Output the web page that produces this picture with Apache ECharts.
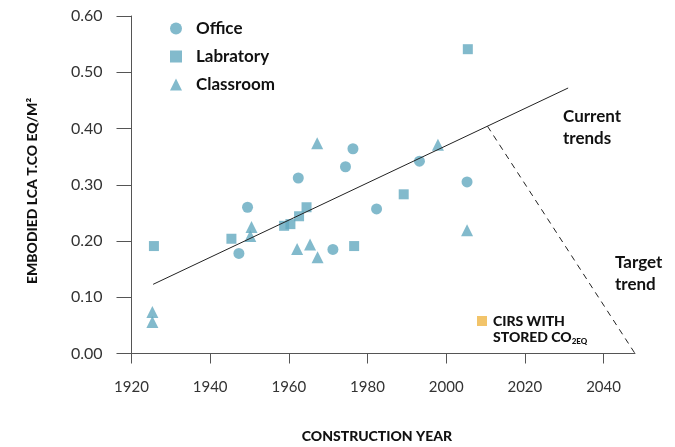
<!DOCTYPE html>
<html>
<head>
<meta charset="utf-8">
<script src="https://cdn.jsdelivr.net/npm/echarts@6/dist/echarts.min.js"></script>
<style>
html,body{margin:0;padding:0;background:#fff;}
#chart{width:675px;height:447px;}
</style>
</head>
<body>
<div id="chart"></div>
<script>
// ---- data ----
const officeData = [[1947.3,0.178],[1949.5,0.260],[1962.4,0.312],[1971.2,0.185],[1974.4,0.332],[1976.3,0.364],[1982.3,0.257],[1993.2,0.342],[2005.3,0.305]];
const labData = [[1925.7,0.191],[1945.4,0.204],[1958.8,0.227],[1960.4,0.230],[1962.6,0.244],[1964.5,0.260],[1976.6,0.191],[1989.2,0.283],[2005.5,0.541]];
const classroomData = [[1925.3,0.074],[1925.3,0.056],[1950.5,0.225],[1950.2,0.209],[1962.1,0.186],[1965.4,0.194],[1967.2,0.374],[1967.3,0.171],[1997.9,0.371],[2005.3,0.219]];
const currentTrend = [[1925.5,0.123],[2031,0.472]];
const targetTrend = [[2010.5,0.404],[2048,0.0]];
const xTicks = [1920,1940,1960,1980,2000,2020,2040];
const seriesNames = ['Office','Labratory','Classroom'];

const teal = '#63a9bf';
const axisColor = '#555';
const font = 'Lato, "Open Sans", sans-serif';

const chart = echarts.init(document.getElementById('chart'), null, {renderer:'canvas'});
chart.setOption({
  animation:false,
  backgroundColor:'#fff',
  grid:{left:131.5, right:40, top:16, bottom:93.5, containLabel:false},
  xAxis:{
    type:'value', min:1920, max:2048, interval:20,
    splitLine:{show:false},
    axisLine:{show:true, lineStyle:{color:axisColor, width:1}},
    axisTick:{show:true, length:10, lineStyle:{color:axisColor}, customValues:xTicks},
    axisLabel:{margin:26, color:'#333', fontSize:15, fontFamily:font, customValues:xTicks, formatter:v=>String(Math.round(v))}
  },
  yAxis:{
    type:'value', min:0, max:0.6, interval:0.1,
    splitLine:{show:false},
    axisLine:{show:true, lineStyle:{color:axisColor, width:1}},
    axisTick:{show:true, length:15, lineStyle:{color:axisColor}},
    axisLabel:{margin:29, color:'#333', fontSize:16, fontFamily:font, formatter:v=>v.toFixed(2)}
  },
  legend:{
    orient:'vertical', left:165, top:15, itemWidth:12, itemHeight:12, itemGap:11,
    data:[{name:'Office',icon:'circle'},{name:'Labratory',icon:'rect'},{name:'Classroom',icon:'triangle'}],
    textStyle:{fontFamily:font, fontWeight:'bold', fontSize:17, color:'#111', lineHeight:17, padding:[0,0,0,9]},
    selectedMode:false
  },
  series:[
    {name:'Office', type:'scatter', symbol:'circle', symbolSize:11, data:officeData, itemStyle:{color:teal}},
    {name:'Labratory', type:'scatter', symbol:'rect', symbolSize:10, data:labData, itemStyle:{color:teal}},
    {name:'Classroom', type:'scatter', symbol:'triangle', symbolSize:12, data:classroomData, itemStyle:{color:teal}},
    {name:'Current trends', type:'line', data:currentTrend, symbol:'none', silent:true, lineStyle:{color:'#222', width:1}},
    {name:'Target trend', type:'line', data:targetTrend, symbol:'none', silent:true, lineStyle:{color:'#222', width:1, type:[6,5]}}
  ],
  graphic:[
    {type:'text', x:32, y:191, rotation:Math.PI/2, style:{text:'EMBODIED LCA T.CO EQ/M²', fill:'#111', font:'900 14px '+font, align:'center', verticalAlign:'middle'}},
    {type:'text', x:377, y:436, style:{text:'CONSTRUCTION YEAR', fill:'#111', font:'900 14px '+font, align:'center', verticalAlign:'middle'}},
    {type:'text', x:563, y:106, style:{text:'Current\ntrends', fill:'#111', font:'bold 17px '+font, lineHeight:22}},
    {type:'text', x:615, y:252, style:{text:'Target\ntrend', fill:'#111', font:'bold 17px '+font, lineHeight:22}},
    {type:'rect', shape:{x:477, y:316, width:10, height:10}, style:{fill:'#f2c46a'}},
    {type:'text', x:493, y:313, style:{
      text:'{a|CIRS WITH}\n{a|STORED CO}{s|2EQ}', fill:'#111', lineHeight:16,
      rich:{a:{font:'900 14px '+font, fill:'#111', lineHeight:16}, s:{font:'900 8px '+font, fill:'#111', lineHeight:16, verticalAlign:'bottom', padding:[7,0,0,0]}}
    }}
  ]
});
</script>
</body>
</html>
